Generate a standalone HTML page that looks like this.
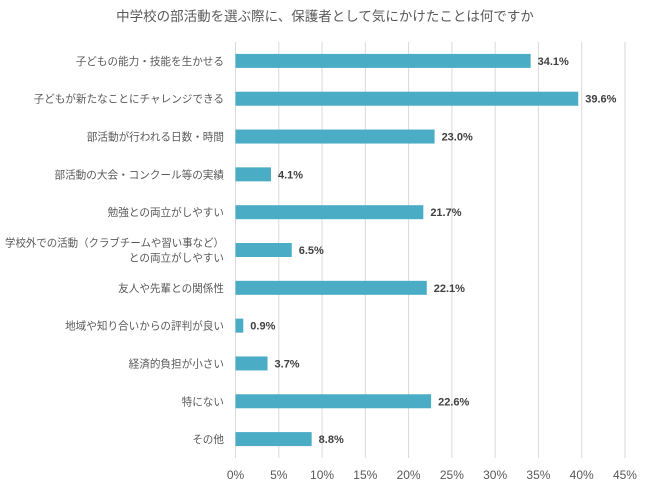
<!DOCTYPE html>
<html><head><meta charset="utf-8"><style>
body{margin:0;background:#fff;}
svg{display:block;font-family:"Liberation Sans","Noto Sans CJK JP",sans-serif;}
</style></head><body>
<svg id="c" width="650" height="487">
<text x="325" y="21" text-anchor="middle" font-size="13.5" fill="#595959">中学校の部活動を選ぶ際に、保護者として気にかけたことは何ですか</text>
<g id="grid"></g><g id="bars"></g>
</svg>
<script>
const categories=[["子どもの能力・技能を生かせる"],["子どもが新たなことにチャレンジできる"],["部活動が行われる日数・時間"],["部活動の大会・コンクール等の実績"],["勉強との両立がしやすい"],["学校外での活動（クラブチームや習い事など）","との両立がしやすい"],["友人や先輩との関係性"],["地域や知り合いからの評判が良い"],["経済的負担が小さい"],["特にない"],["その他"]];
const values=[34.1,39.6,23.0,4.1,21.7,6.5,22.1,0.9,3.7,22.6,8.8];
const ticks=[0,5,10,15,20,25,30,35,40,45];
const NS="http://www.w3.org/2000/svg";
const x0=235.5,pxPer=8.655,plotTop=42,plotBottom=458;
const step=(plotBottom-plotTop)/categories.length;
const xs=v=>x0+v*pxPer;
const ys=i=>plotTop+step*(i+0.5);
function mk(t,a,p){const e=document.createElementNS(NS,t);for(const k in a)e.setAttribute(k,a[k]);p.appendChild(e);return e;}
const grid=document.getElementById('grid'),bars=document.getElementById('bars');
ticks.forEach(t=>{
 const l=mk('line',{x1:xs(t),x2:xs(t),y1:plotTop,y2:plotBottom,stroke:'#d9d9d9','stroke-width':1},grid);
 
 
 const tx=mk('text',{x:xs(t),y:479,'text-anchor':'middle','font-size':12,fill:'#595959'},grid);
 tx.textContent=t+'%';
 
 
});
values.forEach((v,i)=>{
 const y=ys(i);
 const r=mk('rect',{x:xs(0),y:y-7,width:xs(v)-xs(0),height:14,fill:'#4BACC6'},bars);
 
 
 const vl=mk('text',{x:xs(v)+7,y:y+4,'font-size':11,'font-weight':'bold',fill:'#404040'},bars);
 vl.textContent=v.toFixed(1)+'%';
 
 
 const lines=categories[i];
 lines.forEach((s,j)=>{
  const ly=y+4+(j-(lines.length-1)/2)*15;
  const c=mk('text',{x:224,y:ly,'text-anchor':'end','font-size':10.6,fill:'#595959'},bars);
  c.textContent=s;
  if(s.length>20){c.setAttribute('textLength',219);c.setAttribute('lengthAdjust','spacingAndGlyphs');}
  
  
 });
});
</script>
</body></html>
